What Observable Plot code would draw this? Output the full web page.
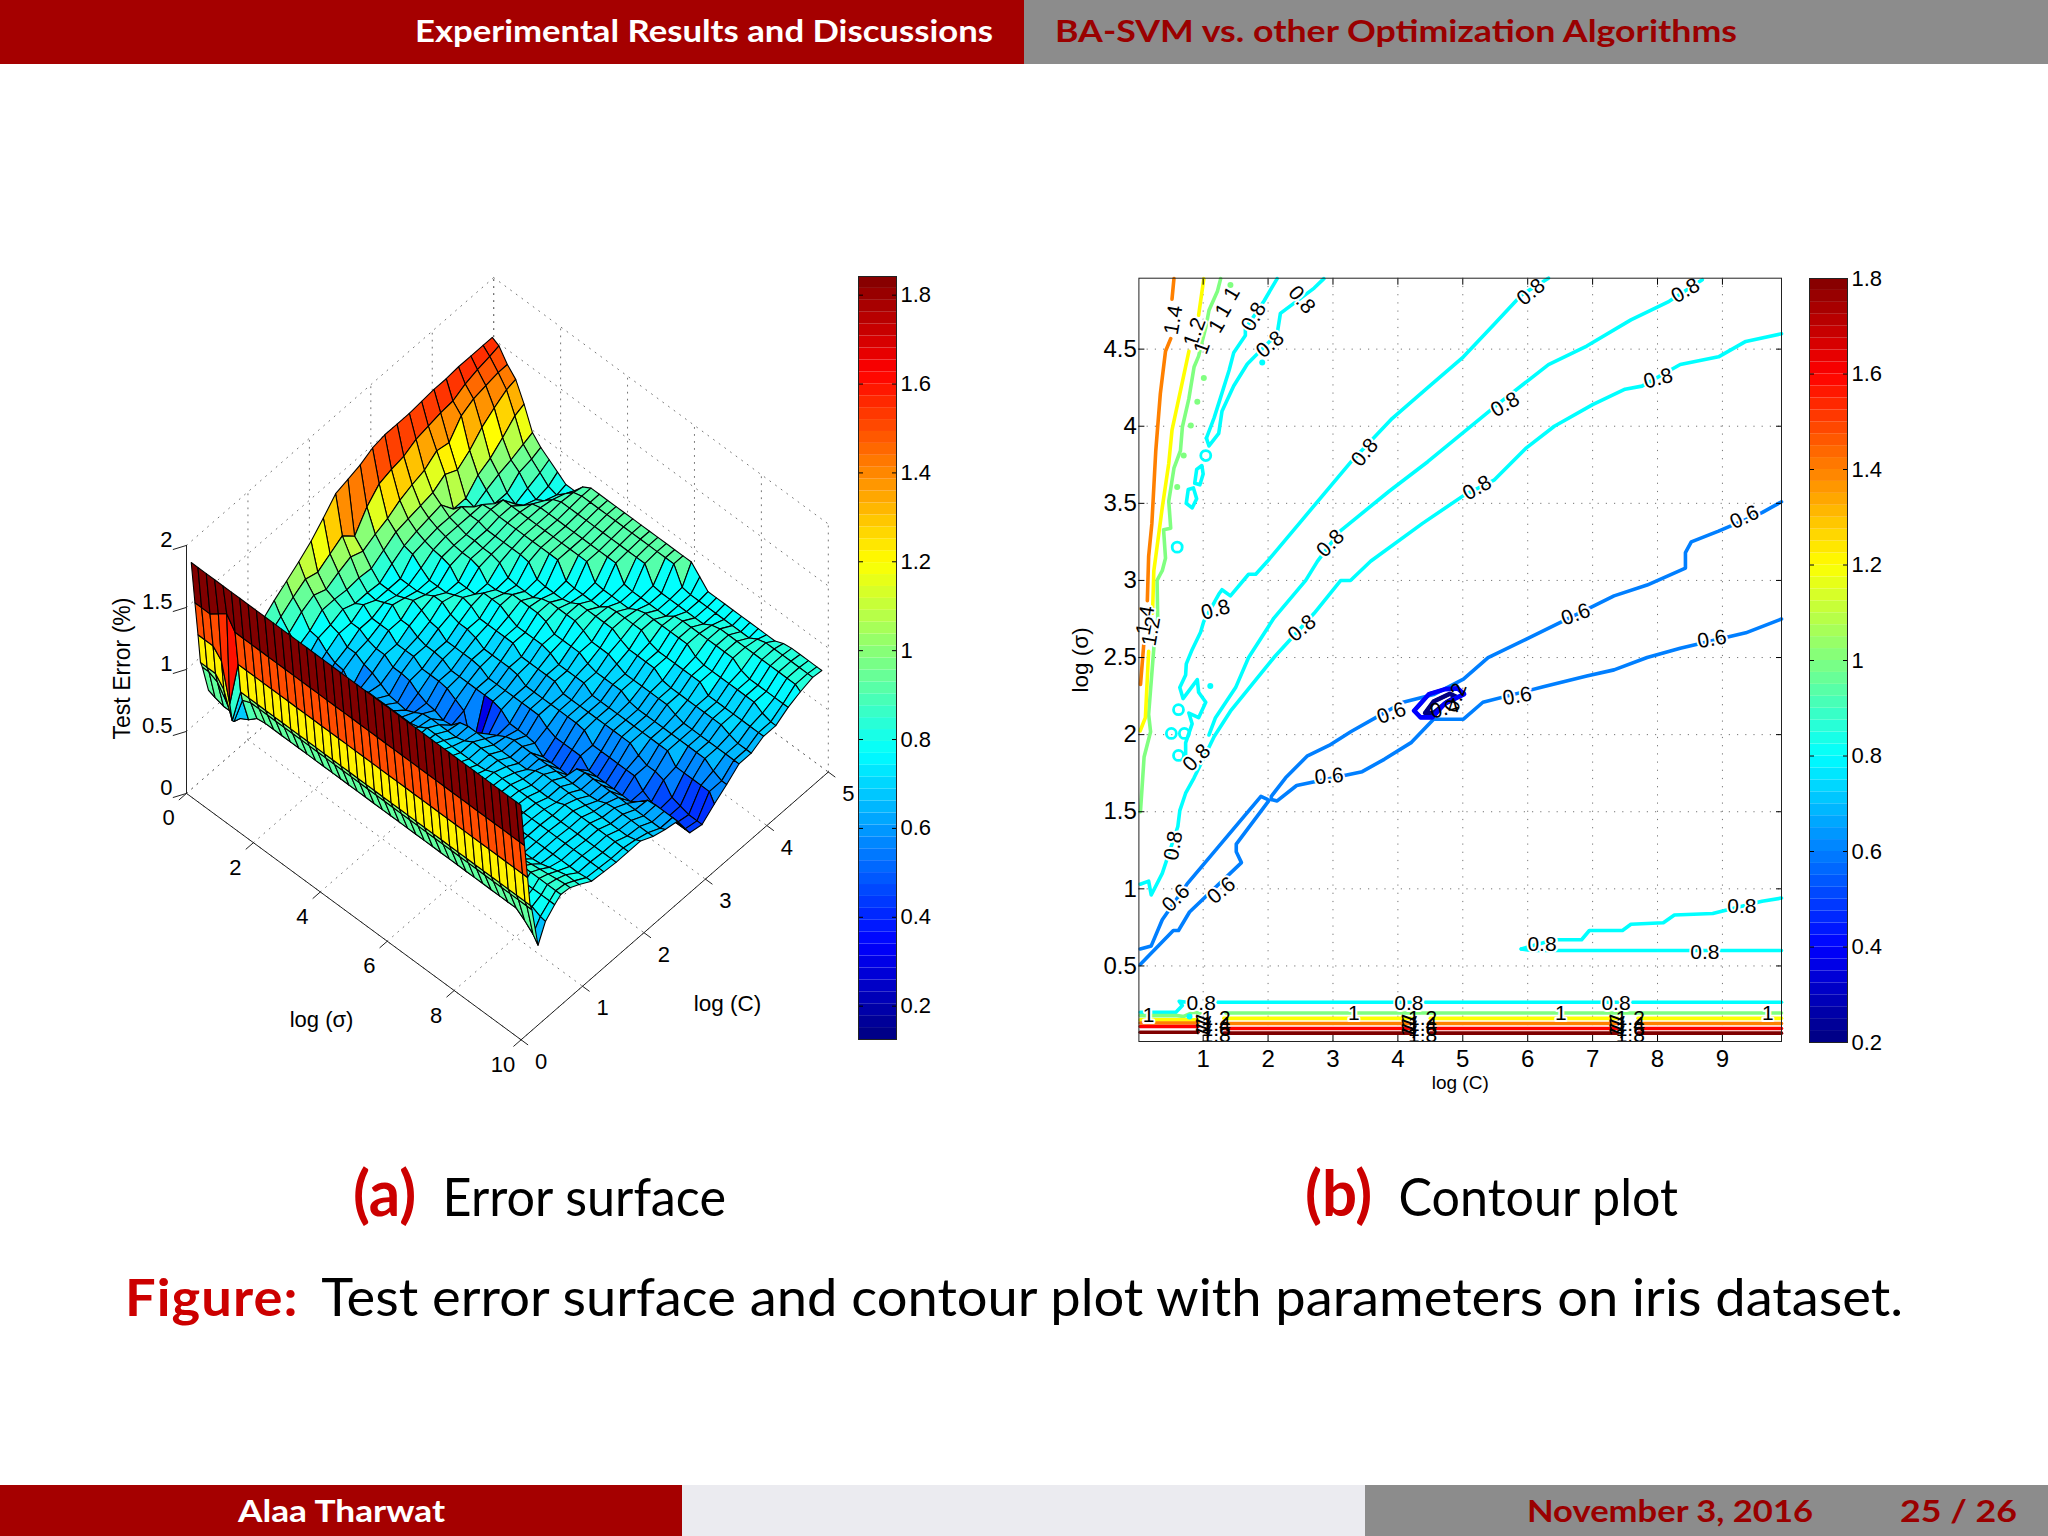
<!DOCTYPE html>
<html>
<head>
<meta charset="utf-8">
<script src="https://cdn.jsdelivr.net/npm/d3@7"></script>
<script src="https://cdn.jsdelivr.net/npm/@observablehq/plot@0.6"></script>
<style>
  html, body { margin: 0; background: #fff; }
  body { position: relative; width: 2048px; height: 1536px; overflow: hidden; font-family: Lato, sans-serif; }
  .bar { position: absolute; }
  .t { position: absolute; white-space: nowrap; line-height: 1; transform-origin: left center; }
  .head { font-size: 30px; font-weight: 700; }
  .cap { font-size: 52px; }
  .cap b { color: #cc0000; }
  .cap b.sub { font-size: 64px; margin-right: 14px; }
  .cap b.fig { letter-spacing: 1px; margin-right: 10px; }
  svg { position: absolute; font-family: "Liberation Sans", sans-serif; }
</style>
</head>
<body>
<div class="bar" style="left:0;top:0;width:1024px;height:64px;background:#a50000"></div>
<div class="bar" style="left:1024px;top:0;width:1024px;height:64px;background:#8c8c8c"></div>
<div class="t head" data-w="578" style="left:415px;top:15px;color:#fff">Experimental Results and Discussions</div>
<div class="t head" data-w="682" style="left:1055px;top:15px;color:#9a0000">BA-SVM vs. other Optimization Algorithms</div>
<div class="t cap" data-w="373" style="left:353px;top:1160px"><b class="sub">(a)</b> Error surface</div>
<div class="t cap" data-w="373" style="left:1305px;top:1160px"><b class="sub">(b)</b> Contour plot</div>
<div class="t cap" data-w="1778" style="left:125px;top:1270px"><b class="fig">Figure:</b> Test error surface and contour plot with parameters on iris dataset.</div>
<div class="bar" style="left:0;top:1485px;width:682px;height:51px;background:#a50000"></div>
<div class="bar" style="left:682px;top:1485px;width:683px;height:51px;background:#ebebf0"></div>
<div class="bar" style="left:1365px;top:1485px;width:683px;height:51px;background:#8c8c8c"></div>
<div class="t head" data-w="207" style="left:238px;top:1495px;color:#fff">Alaa Tharwat</div>
<div class="t head" data-w="286" style="left:1527px;top:1495px;color:#9a0000">November 3, 2016</div>
<div class="t head" data-w="117" style="left:1900px;top:1495px;color:#9a0000">25 / 26</div>
<script>
// jet colormap, shared by both figures
const jetStops = [0, 0.125, 0.375, 0.625, 0.875, 1];
const jetColors = ["#000080", "#0000ff", "#00ffff", "#ffff00", "#ff0000", "#800000"];

// surface: test error read at each log(sigma) column and log(C) row
const surfaceU = [0.05,0.25,0.5,0.75,1,1.25,1.5,1.75,2, 2.25,2.5,2.75,3, 3.25,3.5,3.75,4, 4.25,4.5,4.75,5, 5.25,5.5,5.75,6, 6.25,6.5,6.75,7, 7.25,7.5,7.75,8, 8.25,8.5,8.75,9, 9.25,9.5,9.75,9.9];
const surfaceV = [0.05,0.11,0.16,0.2,0.23,0.33,0.45,0.6,0.7,0.85,1,1.2,1.4,1.6,1.8,2,2.2,2.4,2.6,2.8,3,3.2,3.4,3.6,3.8,4,4.2,4.4,4.6,4.8,4.95];
const surfaceZ = [
  [1.85,1.85,1.85,1.85,1.85,1.85,1.85,1.85,1.85, 1.85,1.85,1.85,1.85, 1.85,1.85,1.85,1.85, 1.85,1.85,1.85,1.85, 1.85,1.85,1.85,1.85, 1.85,1.85,1.85,1.85, 1.85,1.85,1.85,1.85, 1.85,1.85,1.85,1.85, 1.85,1.85,1.85,1.85],
  [1.5,1.5,1.5,1.55,1.6,1.5,1.5,1.5,1.5, 1.5,1.5,1.5,1.5, 1.5,1.5,1.5,1.5, 1.5,1.5,1.5,1.5, 1.5,1.5,1.5,1.5, 1.5,1.5,1.5,1.5, 1.5,1.5,1.5,1.5, 1.5,1.5,1.5,1.5, 1.5,1.5,1.5,1.5],
  [1.22,1.22,1.22,1.15,0.85,1.22,1.22,1.22,1.22, 1.22,1.22,1.22,1.22, 1.22,1.22,1.22,1.22, 1.22,1.22,1.22,1.22, 1.22,1.22,1.22,1.22, 1.22,1.22,1.22,1.22, 1.22,1.22,1.22,1.22, 1.22,1.22,1.22,1.22, 1.22,1.22,1.22,1.22],
  [0.98,0.98,0.98,0.9,0.7,0.98,0.98,0.98,0.98, 0.98,0.98,0.98,0.98, 0.98,0.98,0.98,0.98, 0.98,0.98,0.98,0.98, 0.98,0.98,0.98,0.98, 0.98,0.98,0.98,0.98, 0.98,0.98,0.98,0.98, 0.98,0.98,0.98,0.98, 0.98,0.98,0.98,0.98],
  [0.93,0.93,0.9,0.8,0.68,0.9,0.93,0.93,0.93, 0.93,0.93,0.93,0.93, 0.93,0.93,0.93,0.93, 0.93,0.93,0.93,0.93, 0.93,0.93,0.93,0.93, 0.93,0.93,0.93,0.93, 0.93,0.93,0.93,0.93, 0.93,0.93,0.93,0.93, 0.93,0.93,0.93,0.93],
  [0.7,0.68,0.66,0.66,0.66,0.7,0.76,0.77,0.77, 0.77,0.77,0.77,0.77, 0.77,0.77,0.77,0.77, 0.77,0.77,0.77,0.77, 0.77,0.77,0.77,0.77, 0.77,0.77,0.77,0.77, 0.77,0.77,0.77,0.77, 0.77,0.77,0.77,0.77, 0.77,0.72,0.66,0.6],
  [0.62,0.64,0.68,0.7,0.72,0.74,0.76,0.77,0.78, 0.78,0.78,0.78,0.78, 0.78,0.78,0.78,0.78, 0.78,0.78,0.78,0.78, 0.78,0.78,0.78,0.78, 0.78,0.78,0.78,0.78, 0.78,0.78,0.78,0.78, 0.78,0.78,0.78,0.78, 0.78,0.78,0.75,0.74],
  [0.59,0.6,0.65,0.68,0.7,0.72,0.74,0.75,0.76, 0.77,0.77,0.77,0.77, 0.77,0.77,0.77,0.77, 0.77,0.77,0.77,0.77, 0.77,0.77,0.79,0.81, 0.81,0.81,0.81,0.81, 0.81,0.81,0.81,0.81, 0.81,0.81,0.81,0.81, 0.81,0.81,0.81,0.81],
  [0.63,0.6,0.6,0.64,0.67,0.69,0.71,0.73,0.75, 0.76,0.76,0.76,0.76, 0.76,0.76,0.76,0.76, 0.76,0.76,0.76,0.76, 0.77,0.77,0.77,0.78, 0.79,0.79,0.8,0.82, 0.83,0.84,0.85,0.85, 0.85,0.85,0.85,0.85, 0.85,0.85,0.85,0.85],
  [0.68,0.63,0.6,0.59,0.63,0.66,0.68,0.7,0.72, 0.74,0.74,0.75,0.75, 0.75,0.75,0.75,0.75, 0.75,0.75,0.75,0.75, 0.75,0.75,0.75,0.76, 0.76,0.76,0.76,0.76, 0.77,0.77,0.77,0.78, 0.78,0.79,0.8,0.81, 0.82,0.83,0.84,0.84],
  [0.78,0.7,0.63,0.59,0.56,0.62,0.66,0.68,0.7, 0.68,0.68,0.73,0.73, 0.73,0.73,0.73,0.73, 0.73,0.73,0.73,0.73, 0.73,0.73,0.73,0.73, 0.73,0.73,0.73,0.73, 0.73,0.73,0.73,0.73, 0.73,0.73,0.74,0.76, 0.78,0.8,0.8,0.8],
  [0.88,0.8,0.72,0.66,0.61,0.56,0.55,0.62,0.67, 0.68,0.68,0.68,0.68, 0.68,0.68,0.68,0.72, 0.73,0.73,0.73,0.73, 0.73,0.73,0.73,0.73, 0.73,0.73,0.73,0.73, 0.73,0.73,0.73,0.73, 0.73,0.73,0.73,0.73, 0.73,0.73,0.74,0.74],
  [0.96,0.87,0.79,0.72,0.67,0.63,0.58,0.56,0.62, 0.62,0.62,0.62,0.62, 0.63,0.68,0.68,0.68, 0.68,0.69,0.73,0.73, 0.73,0.73,0.73,0.73, 0.73,0.73,0.73,0.73, 0.73,0.73,0.73,0.73, 0.73,0.73,0.73,0.73, 0.73,0.73,0.73,0.73],
  [1.03,0.94,0.87,0.77,0.76,0.7,0.66,0.65,0.56, 0.6,0.62,0.62,0.62, 0.62,0.62,0.62,0.64, 0.68,0.68,0.68,0.68, 0.68,0.68,0.68,0.69, 0.72,0.72,0.72,0.72, 0.72,0.72,0.72,0.72, 0.72,0.72,0.72,0.72, 0.72,0.72,0.72,0.72],
  [1.1,1,0.92,0.85,0.78,0.76,0.7,0.7,0.66, 0.64,0.6,0.56,0.55, 0.54,0.57,0.61,0.62, 0.62,0.62,0.62,0.64, 0.68,0.68,0.68,0.68, 0.68,0.68,0.68,0.68, 0.68,0.68,0.69,0.72, 0.72,0.72,0.72,0.72, 0.72,0.72,0.72,0.72],
  [1.18,0.97,0.88,0.85,0.82,0.76,0.76,0.72,0.7, 0.7,0.65,0.65,0.64, 0.59,0.56,0.55,0.52, 0.53,0.6,0.62,0.62, 0.62,0.62,0.62,0.62, 0.62,0.62,0.66,0.68, 0.68,0.68,0.68,0.68, 0.68,0.68,0.68,0.68, 0.68,0.68,0.7,0.72],
  [1.28,1.03,0.93,0.84,0.78,0.82,0.76,0.76,0.76, 0.7,0.7,0.7,0.65, 0.65,0.65,0.64,0.6, 0.56,0.3,0.45,0.52, 0.56,0.6,0.62,0.62, 0.62,0.62,0.62,0.62, 0.62,0.62,0.62,0.62, 0.63,0.66,0.67,0.67, 0.67,0.67,0.67,0.67],
  [1.39,1.09,0.97,0.85,0.78,0.77,0.8,0.83,0.76, 0.76,0.72,0.7,0.7, 0.69,0.65,0.65,0.65, 0.65,0.65,0.65,0.63, 0.57,0.57,0.57,0.56, 0.5,0.5,0.5,0.5, 0.6,0.62,0.62,0.62, 0.62,0.62,0.62,0.62, 0.62,0.62,0.62,0.64],
  [1.42,1,0.93,0.84,0.77,0.77,0.77,0.8,0.83, 0.8,0.76,0.75,0.7, 0.7,0.7,0.7,0.69, 0.65,0.65,0.65,0.65, 0.65,0.65,0.65,0.6, 0.57,0.57,0.57,0.57, 0.5,0.5,0.5,0.5, 0.5,0.5,0.55,0.61, 0.62,0.62,0.62,0.62],
  [1.45,1.15,0.98,0.9,0.84,0.77,0.77,0.77,0.79, 0.83,0.83,0.78,0.76, 0.76,0.74,0.7,0.7, 0.7,0.7,0.69,0.65, 0.65,0.65,0.65,0.65, 0.65,0.65,0.64,0.57, 0.57,0.57,0.57,0.57, 0.57,0.5,0.46,0.45, 0.44,0.44,0.44,0.44],
  [1.5,1.25,1.02,0.96,0.9,0.88,0.82,0.77,0.77, 0.77,0.8,0.83,0.81, 0.76,0.76,0.76,0.76, 0.76,0.7,0.7,0.7, 0.7,0.7,0.65,0.65, 0.65,0.65,0.65,0.65, 0.65,0.65,0.65,0.6, 0.57,0.57,0.55,0.46, 0.44,0.42,0.42,0.42],
  [1.52,1.28,1.08,0.98,0.93,0.9,0.88,0.87,0.85, 0.77,0.77,0.77,0.83, 0.83,0.83,0.79,0.76, 0.76,0.76,0.76,0.74, 0.7,0.7,0.7,0.7, 0.65,0.65,0.65,0.65, 0.65,0.65,0.65,0.65, 0.65,0.65,0.57,0.57, 0.57,0.57,0.57,0.5],
  [1.52,1.3,1.12,1,0.95,0.92,0.9,0.88,0.87, 0.87,0.85,0.77,0.77, 0.79,0.83,0.83,0.83, 0.83,0.81,0.76,0.76, 0.76,0.76,0.72,0.7, 0.7,0.7,0.7,0.66, 0.65,0.65,0.65,0.65, 0.65,0.65,0.65,0.65, 0.65,0.6,0.57,0.57],
  [1.52,1.35,1.15,1.02,0.97,0.92,0.9,0.88,0.88, 0.87,0.87,0.85,0.78, 0.77,0.77,0.77,0.81, 0.83,0.83,0.83,0.83, 0.8,0.76,0.76,0.76, 0.73,0.7,0.7,0.7, 0.7,0.7,0.7,0.67, 0.65,0.65,0.65,0.65, 0.65,0.65,0.65,0.65],
  [1.53,1.37,1.22,1.08,0.85,0.92,0.9,0.9,0.88, 0.88,0.88,0.88,0.88, 0.87,0.78,0.77,0.77, 0.77,0.79,0.83,0.83, 0.83,0.83,0.83,0.79, 0.76,0.76,0.76,0.76, 0.71,0.7,0.7,0.7, 0.7,0.7,0.7,0.7, 0.67,0.65,0.65,0.65],
  [1.54,1.39,1.2,1.03,0.85,0.83,0.9,0.91,0.9, 0.9,0.9,0.9,0.9, 0.9,0.9,0.9,0.78, 0.77,0.77,0.77,0.77, 0.82,0.83,0.83,0.83, 0.83,0.78,0.76,0.76, 0.76,0.76,0.76,0.76, 0.7,0.7,0.7,0.7, 0.7,0.7,0.7,0.7],
  [1.54,1.4,1.33,1.1,0.95,0.88,0.82,0.9,0.9, 0.9,0.9,0.9,0.9, 0.9,0.9,0.9,0.9, 0.9,0.78,0.77,0.77, 0.77,0.77,0.81,0.83, 0.83,0.83,0.83,0.83, 0.83,0.78,0.76,0.76, 0.76,0.76,0.76,0.76, 0.76,0.72,0.7,0.7],
  [1.55,1.45,1.38,1.2,1,0.92,0.82,0.78,0.82, 0.88,0.9,0.9,0.9, 0.9,0.9,0.9,0.9, 0.9,0.9,0.9,0.78, 0.77,0.77,0.77,0.77, 0.77,0.82,0.83,0.83, 0.83,0.83,0.83,0.83, 0.83,0.78,0.76,0.76, 0.76,0.76,0.76,0.76],
  [1.55,1.48,1.4,1.27,1.08,0.95,0.9,0.82,0.78, 0.82,0.88,0.91,0.91, 0.91,0.91,0.91,0.91, 0.91,0.91,0.91,0.91, 0.91,0.78,0.77,0.77, 0.77,0.77,0.77,0.77, 0.81,0.83,0.83,0.83, 0.83,0.83,0.83,0.83, 0.83,0.83,0.83,0.8],
  [1.55,1.5,1.42,1.33,1.17,0.99,0.92,0.86,0.8, 0.78,0.84,0.9,0.92, 0.92,0.92,0.92,0.92, 0.92,0.92,0.92,0.92, 0.92,0.92,0.92,0.78, 0.77,0.77,0.77,0.77, 0.77,0.77,0.77,0.77, 0.81,0.83,0.83,0.83, 0.83,0.83,0.83,0.83],
  [1.55,1.52,1.42,1.35,1.2,1.02,0.95,0.9,0.85, 0.8,0.8,0.88,0.92, 0.92,0.92,0.92,0.92, 0.92,0.92,0.92,0.92, 0.92,0.92,0.92,0.92, 0.85,0.78,0.78,0.78, 0.78,0.78,0.78,0.78, 0.78,0.78,0.81,0.82, 0.82,0.82,0.82,0.82]
];

// surface tick labels
const surfaceTicksU = [0, 2, 4, 6, 8, 10];
const surfaceTicksV = [0, 1, 2, 3, 4, 5];
const surfaceTicksZ = [0, 0.5, 1, 1.5, 2];

// contour lines (b), as [log C, log sigma] points, one list per level
const line02 = [[[4.42,2.14],[4.55,2.14],[4.75,2.21],[4.9,2.245],[4.8,2.265],[4.55,2.215],[4.42,2.14]]];
const line04 = [[[4.25,2.155],[4.35,2.112],[4.53,2.112],[4.72,2.2],[5.02,2.263],[4.92,2.3],[4.73,2.295],[4.48,2.263],[4.25,2.155]]];
const line06 = [
  [[0.03,0.61],[0.2,0.63],[0.37,0.8],[0.75,1.03],[1.89,1.6],[1.99,1.58],[2.01,1.57],[1.51,1.29],[1.51,1.24],[1.59,1.17],[0.79,0.85],[0.62,0.73],[0.54,0.73],[0.03,0.51]],
  [[2.05,1.58],[2.05,1.6],[2.27,1.72],[2.6,1.86],[2.94,1.93],[3.28,2.02],[3.7,2.12],[4.08,2.21],[4.55,2.26],[5.01,2.36],[5.39,2.5],[5.98,2.62],[6.95,2.82],[7.33,2.9],[7.84,2.97],[8.43,3.08],[8.43,3.18],[8.52,3.25],[8.94,3.32],[9.61,3.44],[9.91,3.51]],
  [[2.05,1.58],[2.14,1.57],[2.44,1.67],[3.45,1.76],[3.79,1.84],[4.21,1.95],[4.55,2.1],[5.01,2.1],[5.31,2.21],[6.24,2.31],[6.91,2.38],[7.33,2.42],[7.84,2.5],[8.35,2.56],[9.36,2.66],[9.91,2.75]]
];
const line08 = [
  [[0.03,1.03],[0.16,1.05],[0.2,0.96],[0.37,1.1],[0.61,1.404],[0.64,1.507],[0.73,1.62],[0.86,1.72],[1.17,1.988],[1.42,2.152],[2.09,2.5],[2.35,2.62],[2.71,2.787],[3.12,3],[3.27,3],[3.58,3.124],[4.38,3.37],[5.01,3.55],[5.48,3.65],[5.98,3.86],[6.41,4],[7,4.14],[7.5,4.24],[7.76,4.26],[8.35,4.4],[8.94,4.45],[9.36,4.55],[9.91,4.6]],
  [[0.73,1.824],[0.73,1.947],[0.83,2.07],[0.78,2.14],[0.93,2.11],[1.04,2.21],[0.93,2.275],[0.91,2.357],[0.69,2.234],[0.64,2.305],[0.73,2.387],[0.74,2.459],[0.83,2.551],[0.96,2.664],[1.01,2.735],[1.24,2.91],[1.29,2.94],[1.42,2.9],[1.7,3.04],[1.81,3.04],[1.99,3.124],[2.52,3.39],[3.28,3.77],[3.91,4.05],[4.46,4.25],[5.01,4.45],[5.48,4.66],[5.9,4.85],[6.32,4.96]],
  [[1.09,1.998],[1.19,2.11],[1.5,2.305],[1.7,2.5],[2.09,2.756],[2.58,3],[2.76,3.124],[3.11,3.32],[3.87,3.58],[4.46,3.77],[5.01,3.96],[5.56,4.15],[6.32,4.4],[6.91,4.52],[7.59,4.69],[8.18,4.81],[8.69,4.95]],
  [[1.05,3.923],[1.17,4.056],[1.27,4.189],[1.4,4.363],[1.47,4.476],[1.65,4.588],[1.65,4.63],[1.94,4.814],[2.14,4.957]],
  [[1.05,3.923],[1.09,3.872],[1.24,3.954],[1.29,4.097],[1.47,4.261],[1.68,4.404],[2.14,4.599],[2.19,4.732],[2.71,4.896],[2.86,4.957]],
  [[5.9,0.61],[6.41,0.67],[6.83,0.67],[6.95,0.73],[7.46,0.73],[7.59,0.77],[8.09,0.78],[8.26,0.83],[8.85,0.84],[9.61,0.92],[9.91,0.94]],
  [[5.9,0.61],[6.07,0.6],[9.91,0.6]],
  [[0.03,0.2],[0.58,0.2],[0.68,0.243],[0.63,0.271],[0.75,0.265]],
  [[1.2,0.265],[9.91,0.265]],
  [[0.87,3.63],[0.9,3.72],[0.98,3.745],[1,3.69],[0.95,3.62],[0.87,3.63]],
  [[0.74,3.5],[0.77,3.59],[0.85,3.6],[0.9,3.53],[0.83,3.47],[0.74,3.5]]
];
const line10 = [
  [[0.03,1.5],[0.035,1.507],[0.09,1.855],[0.19,2.019],[0.16,2.131],[0.24,2.561],[0.3,2.756],[0.29,3],[0.34,3.04],[0.37,3.063],[0.42,3.145],[0.39,3.329],[0.5,3.339],[0.47,3.513],[0.55,3.728],[0.65,3.841],[0.68,3.995],[0.78,4.179],[0.86,4.384],[0.93,4.455],[0.99,4.558],[1.04,4.64],[1.09,4.752],[1.22,4.875],[1.27,4.957]],
  [[0.03,0.178],[0.6,0.178],[0.7,0.172],[0.85,0.2],[0.95,0.195]],
  [[1.35,0.195],[9.91,0.195]]
];
const line12 = [
  [[0.03,2.025],[0.11,2.11],[0.16,2.54]],
  [[0.22,2.787],[0.24,3.063],[0.27,3.155],[0.37,3.473],[0.47,3.759],[0.52,3.974],[0.65,4.23],[0.78,4.486]],
  [[0.93,4.72],[1.01,4.957]],
  [[0.03,0.15],[0.92,0.15]],
  [[1.32,0.16],[4.2,0.16]],
  [[4.5,0.16],[7.38,0.16]],
  [[7.7,0.16],[9.91,0.16]]
];
const line14 = [
  [[0.035,2.326],[0.09,2.613]],
  [[0.14,2.868],[0.16,3.155],[0.21,3.37],[0.27,3.841],[0.34,4.21],[0.42,4.486],[0.5,4.568]],
  [[0.52,4.824],[0.55,4.957]],
  [[0.03,0.13],[0.92,0.13]],
  [[1.32,0.127],[4.2,0.127]],
  [[4.5,0.127],[7.38,0.127]],
  [[7.7,0.127],[9.91,0.127]]
];
const line16 = [
  [[0.03,0.107],[0.92,0.107]],
  [[1.32,0.094],[4.2,0.094]],
  [[4.5,0.094],[7.38,0.094]],
  [[7.7,0.094],[9.91,0.094]]
];
const line18 = [
  [[0.03,0.07],[0.92,0.07]],
  [[1.32,0.064],[4.2,0.064]],
  [[4.5,0.064],[7.38,0.064]],
  [[7.7,0.064],[9.91,0.064]]
];
const contourLevels = [0.2, 0.4, 0.6, 0.8, 1, 1.2, 1.4, 1.6, 1.8];
const contourLines = [line02, line04, line06, line08, line10, line12, line14, line16, line18];

// small closed rings and dots left over by the contour routine
const ringsC = [1.04, 0.6, 0.62, 0.51, 0.71, 0.62];
const ringsSigma = [3.81, 3.216, 2.162, 2.008, 2.008, 1.865];
const dots08C = [1.91, 1.11, 0.79];
const dots08Sigma = [4.414, 2.315, 0.172];
const dots10C = [1.01, 0.91, 0.81, 0.7, 0.6, 1.42];
const dots10Sigma = [4.312, 4.158, 4.005, 3.81, 3.606, 4.916];

// inline contour labels
const labelText = ["1.4","1.2","1","1","1","1","0.8","0.8","0.8","0.8","0.8","0.8","0.8","0.8","0.8","0.8","0.8","0.8","0.8","0.8","1.4","1.2","0.6","0.6","0.6","0.6","0.6","0.6","0.6","0.6","0.4","0.2","0.8","0.8","0.8","0.8","0.8","0.8","1","1","1","1","1","1","1","1","1","1","1","1","1","1","1","1","1.2","1.4","1.6","1.8","1.2","1.4","1.6","1.8","1.2","1.4","1.6","1.8"];
const labelC = [0.54,0.87,0.98,1.21,1.31,1.44,1.78,2.03,2.52,6.05,8.43,3.49,5.65,8.01,2.96,5.22,1.19,2.52,0.9,0.54,0.11,0.2,6.74,9.34,8.84,3.9,5.84,2.94,0.58,1.28,4.72,4.89,9.3,8.73,6.22,0.97,4.17,7.36,0.16,3.32,6.51,9.7,1,1,1,1,4.17,4.17,4.17,4.17,7.37,7.37,7.37,7.37,1.2,1.2,1.2,1.2,4.38,4.38,4.38,4.38,7.58,7.58,7.58,7.58];
const labelSigma = [4.69,4.61,4.51,4.65,4.75,4.86,4.71,4.53,4.82,4.87,4.88,3.83,4.14,4.31,3.24,3.6,2.81,2.69,1.85,1.28,2.74,2.67,2.78,3.41,2.62,2.14,2.25,1.73,0.94,0.99,2.17,2.24,0.89,0.59,0.64,0.26,0.26,0.26,0.18,0.19,0.19,0.19,0.16,0.13,0.1,0.07,0.16,0.13,0.1,0.07,0.16,0.13,0.1,0.07,0.16,0.125,0.09,0.05,0.16,0.125,0.09,0.05,0.16,0.125,0.09,0.05];
const labelAngle = [-80,-70,-70,-60,-60,-60,-60,-40,50,-40,-30,-50,-30,-15,-45,-30,-15,-40,-45,-80,-80,-80,-20,-25,-10,-20,-10,-5,-45,-40,-15,-70,0,0,0,0,0,0,0,0,0,0,-70,-70,-70,-70,-70,-70,-70,-70,-70,-70,-70,-70,0,0,0,0,0,0,0,0,0,0,0,0];

const colorbarTicks = [0.2, 0.4, 0.6, 0.8, 1, 1.2, 1.4, 1.6, 1.8];
const tickC = [1, 2, 3, 4, 5, 6, 7, 8, 9];
const tickSigma = [0.5, 1, 1.5, 2, 2.5, 3, 3.5, 4, 4.5];

const jetScale = (lo, hi) => ({
  type: "linear",
  domain: jetStops.map((t) => lo + t * (hi - lo)),
  range: jetColors,
  interpolate: "rgb",
  clamp: true
});

function place(chart, left, top) {
  chart.style.left = left + "px";
  chart.style.top = top + "px";
  document.body.append(chart);
}

// view of the surface axes, in svg pixels
const project = (u, v, z) => ({
  x: 96 + 33.46 * u + 61.44 * v,
  y: 532.9 + 24.64 * u - 53.56 * v - 124 * z
});
const seg = (id, a, b) => [
  { id, ...project(...a) },
  { id, ...project(...b) }
];

// flat quads, painted from the far corner to the near one
const quads = [];
surfaceU.slice(0, -1).forEach((u, i) => {
  for (let j = surfaceV.length - 2; j >= 0; j--) {
    const id = i + "-" + j;
    const value = surfaceZ[j][i];
    [[i, j], [i + 1, j], [i + 1, j + 1], [i, j + 1]].forEach(([a, b]) => {
      quads.push({ id, value, ...project(surfaceU[a], surfaceV[b], surfaceZ[b][a]) });
    });
  }
});

const dotted = [];
surfaceTicksU.forEach((u) => {
  dotted.push(...seg("fu" + u, [u, 0, 0], [u, 5, 0]));
  dotted.push(...seg("wu" + u, [u, 5, 0], [u, 5, 2]));
});
surfaceTicksV.forEach((v) => {
  dotted.push(...seg("fv" + v, [0, v, 0], [10, v, 0]));
  dotted.push(...seg("wv" + v, [0, v, 0], [0, v, 2]));
});
surfaceTicksZ.forEach((z) => {
  dotted.push(...seg("zl" + z, [0, 0, z], [0, 5, z]));
  dotted.push(...seg("zr" + z, [0, 5, z], [10, 5, z]));
});

const solid = [
  ...seg("ax-z", [0, 0, 0], [0, 0, 2]),
  ...seg("ax-u", [0, 0, 0], [10, 0, 0]),
  ...seg("ax-v", [10, 0, 0], [10, 5, 0])
];
surfaceTicksZ.forEach((z) => solid.push(...seg("tz" + z, [0, 0, z], [-0.14, -0.14, z])));
surfaceTicksU.forEach((u) => solid.push(...seg("tu" + u, [u, 0, 0], [u, -0.12, 0])));
surfaceTicksV.forEach((v) => solid.push(...seg("tv" + v, [10, v, 0], [10.2, v, 0])));

const tickText = (list, fn, opts) =>
  Plot.text(list, { x: (d) => fn(d).x, y: (d) => fn(d).y, text: (d) => String(d), fontSize: 22, ...opts });

place(Plot.plot({
  width: 760,
  height: 840,
  margin: 0,
  x: { domain: [0, 760], range: [0, 760], axis: null },
  y: { domain: [0, 840], range: [0, 840], axis: null },
  color: jetScale(0.125, 1.842),
  style: { background: "none", overflow: "visible" },
  marks: [
    Plot.line(dotted, { x: "x", y: "y", z: "id", stroke: "#666", strokeWidth: 0.9, strokeDasharray: "1,6" }),
    Plot.line(solid, { x: "x", y: "y", z: "id", stroke: "#222", strokeWidth: 1 }),
    Plot.line(quads, { x: "x", y: "y", z: "id", fill: "value", stroke: "#000", strokeWidth: 1.1, curve: "linear-closed" }),
    tickText(surfaceTicksZ, (z) => project(0, 0, z), { dx: -14, dy: -5, textAnchor: "end" }),
    tickText(surfaceTicksU, (u) => project(u, 0, 0), { dx: -18, dy: 25 }),
    tickText(surfaceTicksV, (v) => project(10, v, 0), { dx: 20, dy: 22 }),
    Plot.text(["log (σ)"], { x: [231], y: [759], fontSize: 22 }),
    Plot.text(["log (C)"], { x: [637], y: [743], fontSize: 22.5 }),
    Plot.text(["Test Error (%)"], { x: [32], y: [408], fontSize: 23, rotate: -90 })
  ]
}), 90, 260);

function colorbar(lo, hi, left, top, height) {
  const steps = d3.range(64).map((i) => ({
    y1: lo + (i / 64) * (hi - lo),
    y2: lo + ((i + 1) / 64) * (hi - lo)
  }));
  place(Plot.plot({
    width: 100,
    height,
    marginLeft: 1,
    marginRight: 61,
    marginTop: 1,
    marginBottom: 1,
    x: { domain: [0, 1], axis: null },
    y: { domain: [lo, hi], axis: null },
    color: jetScale(lo, hi),
    style: { background: "none", overflow: "visible", fontSize: "22px" },
    marks: [
      Plot.rect(steps, { x1: 0, x2: 1, y1: "y1", y2: "y2", fill: (d) => (d.y1 + d.y2) / 2 }),
      Plot.axisY(colorbarTicks, { anchor: "right", tickSize: -5, tickPadding: 9, label: null, tickFormat: (d) => String(d), fontSize: 22, color: "#000" }),
      Plot.axisY(colorbarTicks, { anchor: "left", tickSize: -5, text: null, label: null }),
      Plot.frame({ stroke: "#222" })
    ]
  }), left, top);
}
colorbar(0.125, 1.842, 857, 275, 765);
colorbar(0.2, 1.8, 1808, 276.7, 766);

// figure (b)
const contourRows = contourLevels.flatMap((level, k) =>
  contourLines[k].flatMap((pts, n) =>
    pts.map(([c, s]) => ({ id: level + "-" + n, level, c, s }))
  )
);
const pairs = (xs, ys) => xs.map((x, i) => ({ x, y: ys[i] }));

// labels 0.4 and 0.2 and the stacks along the bottom sit on the lines without a white edge
const labelOptions = { x: labelC, y: labelSigma, text: labelText, rotate: labelAngle, fontSize: 21, fill: "#000" };
const bare = (i) => i === 30 || i === 31 || i >= 42;

place(Plot.plot({
  width: 740,
  height: 850,
  marginLeft: 78.4,
  marginRight: 19,
  marginTop: 17.7,
  marginBottom: 69,
  x: { domain: [0.01, 9.91] },
  y: { domain: [0.01, 4.96] },
  color: jetScale(0.2, 1.8),
  style: { background: "none", overflow: "visible", fontSize: "24px" },
  marks: [
    Plot.gridX(tickC, { stroke: "#666", strokeOpacity: 0.9, strokeDasharray: "1.2,7" }),
    Plot.gridY(tickSigma, { stroke: "#666", strokeOpacity: 0.9, strokeDasharray: "1.2,7" }),
    Plot.line(contourRows, { x: "c", y: "s", z: "id", stroke: "level", strokeWidth: 3.6, strokeLinejoin: "round" }),
    Plot.dot(pairs(ringsC, ringsSigma), { x: "x", y: "y", r: 5, stroke: () => 0.8, strokeWidth: 2.8 }),
    Plot.dot(pairs(dots08C, dots08Sigma), { x: "x", y: "y", r: 3, fill: () => 0.8 }),
    Plot.dot(pairs(dots10C, dots10Sigma), { x: "x", y: "y", r: 3, fill: () => 1 }),
    Plot.text(labelText, { ...labelOptions, filter: (d, i) => !bare(i), stroke: "#fff", strokeWidth: 4 }),
    Plot.line(contourRows, { filter: (d) => d.level < 0.5, x: "c", y: "s", z: "id", stroke: "level", strokeWidth: 4.6, strokeLinejoin: "round" }),
    Plot.text(labelText, { ...labelOptions, filter: (d, i) => bare(i) }),
    Plot.axisX(tickC, { tickSize: -6, tickPadding: 14, label: null, fontSize: 24 }),
    Plot.axisY(tickSigma, { tickSize: -6, tickPadding: 8, tickFormat: (d) => String(d), label: null, fontSize: 24 }),
    Plot.axisX(tickC, { anchor: "top", tickSize: -6, text: null, label: null }),
    Plot.axisY(tickSigma, { anchor: "right", tickSize: -6, text: null, label: null }),
    Plot.text(["log (C)"], { frameAnchor: "bottom", dy: 47, fontSize: 19 }),
    Plot.text(["log (σ)"], { frameAnchor: "left", dx: -58, fontSize: 22.5, rotate: -90, textAnchor: "middle" }),
    Plot.frame({ stroke: "#222" })
  ]
}), 1060, 260);

// squeeze the slide texts to the widths they have in the slide
document.querySelectorAll(".t[data-w]").forEach((el) => {
  el.style.transform = `scaleX(${+el.dataset.w / el.getBoundingClientRect().width})`;
});
</script>
</body>
</html>
